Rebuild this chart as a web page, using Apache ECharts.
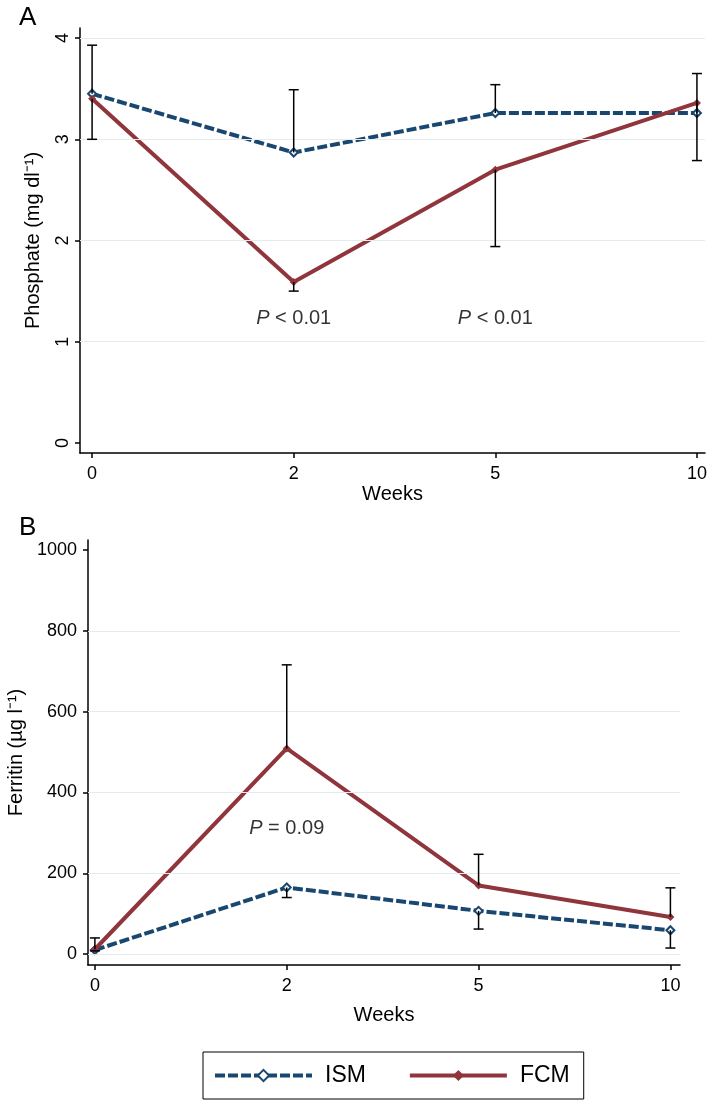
<!DOCTYPE html>
<html><head><meta charset="utf-8">
<script src="https://cdn.jsdelivr.net/npm/echarts@6/dist/echarts.min.js"></script>
<style>html,body{margin:0;padding:0;background:#fff}#c{width:709px;height:1105px}</style>
</head><body><div id="c"></div>
<script>
// ---- data ----
const weeks = ['0', '2', '5', '10'];
const phosISM = [3.45, 2.87, 3.26, 3.26];
const phosFCM = [3.40, 1.59, 2.70, 3.36];
const phosISMUpper = [3.93, 3.49, 3.54, 3.65];
const phosFCMLower = [3.00, 1.50, 1.94, 2.79];
const ferrISM = [10, 165, 107, 59];
const ferrFCM = [12, 509, 170, 92];
const ferrFCMUpper = [40, 716, 247, 164];
const ferrISMLower = [8, 140, 62, 15];
const phosTicks = [0, 1, 2, 3, 4];
const phosGridVals = [1, 2, 3, 4];
const ferrTicks = [0, 200, 400, 600, 800, 1000];
const ferrGridVals = [0, 200, 400, 600, 800];
const annotA = [{x: 1, y: 1.23, t: '{i|P} < 0.01'}, {x: 2, y: 1.23, t: '{i|P} < 0.01'}];
const annotB = [{x: 1, y: 311, t: '{i|P} = 0.09'}];

const NAVY = '#1a476f', RED = '#90353b', GRID = '#e4ecef';
const FONT = 'Liberation Sans, Arial, sans-serif';
const idx = weeks.map((w, i) => i);

function pts(arr) { return idx.map(i => [i, arr[i]]); }
function errData(mean, bound) { return idx.map(i => [i, mean[i], bound[i]]); }

function xAxis(gi, min, max, nameGap) {
  return {
    type: 'value', gridIndex: gi, min: min, max: max,
    name: 'Weeks', nameLocation: 'middle', nameGap: nameGap,
    nameTextStyle: {fontSize: 20, color: '#000', fontFamily: FONT},
    axisLine: {show: true, onZero: false, lineStyle: {color: '#000', width: 1.5}},
    axisTick: {show: true, length: 5, customValues: idx, lineStyle: {color: '#000', width: 1.5}},
    axisLabel: {customValues: idx, formatter: v => weeks[Math.round(v)], fontSize: 18, color: '#000', margin: 12, fontFamily: FONT},
    splitLine: {show: false}
  };
}
function yAxis(gi, min, max, ticks, name, nameGap, rotate, margin) {
  return {
    type: 'value', gridIndex: gi, min: min, max: max,
    name: name, nameLocation: 'middle', nameGap: nameGap,
    nameTextStyle: {fontSize: 20, color: '#000', fontFamily: FONT},
    axisLine: {show: true, onZero: false, lineStyle: {color: '#000', width: 1.5}},
    axisTick: {show: true, length: 5, customValues: ticks, lineStyle: {color: '#000', width: 1.5}},
    axisLabel: {customValues: ticks, formatter: v => String(v), rotate: rotate, fontSize: 18, color: '#000', margin: margin, fontFamily: FONT},
    splitLine: {show: false}
  };
}
function gridSeries(gi, vals) {
  return {
    type: 'line', xAxisIndex: gi, yAxisIndex: gi, data: [], silent: true, z: 0,
    markLine: {silent: true, symbol: 'none', label: {show: false}, animation: false,
      lineStyle: {color: GRID, width: 1.2, type: 'solid'},
      data: vals.map(v => ({yAxis: v}))}
  };
}
function ismSeries(gi, arr) {
  return {
    name: 'ISM', type: 'line', xAxisIndex: gi, yAxisIndex: gi, data: pts(arr), z: 2,
    symbol: 'emptyDiamond', symbolSize: 8, showSymbol: true,
    lineStyle: {color: NAVY, width: 4, type: [10, 3]},
    itemStyle: {color: NAVY, borderColor: NAVY, borderWidth: 1.5}
  };
}
function fcmSeries(gi, arr) {
  return {
    name: 'FCM', type: 'line', xAxisIndex: gi, yAxisIndex: gi, data: pts(arr), z: 3,
    symbol: 'diamond', symbolSize: 8, showSymbol: true,
    lineStyle: {color: RED, width: 4},
    itemStyle: {color: RED}
  };
}
function errSeries(gi, data) {
  return {
    type: 'custom', xAxisIndex: gi, yAxisIndex: gi, z: 5, silent: true, data: data,
    renderItem: (params, api) => {
      const x = api.value(0), a = api.value(1), b = api.value(2);
      const p1 = api.coord([x, a]), p2 = api.coord([x, b]);
      const w = 5;
      return {type: 'group', children: [
        {type: 'line', shape: {x1: p1[0], y1: p1[1], x2: p2[0], y2: p2[1]}, style: {stroke: '#000', lineWidth: 1.5}},
        {type: 'line', shape: {x1: p2[0] - w, y1: p2[1], x2: p2[0] + w, y2: p2[1]}, style: {stroke: '#000', lineWidth: 1.5}}
      ]};
    }
  };
}
function annotSeries(gi, list) {
  return {
    type: 'scatter', xAxisIndex: gi, yAxisIndex: gi, symbolSize: 1, silent: true, z: 6,
    itemStyle: {color: 'rgba(0,0,0,0)'},
    data: list.map(a => ({value: [a.x, a.y], label: {formatter: a.t}})),
    label: {show: true, position: 'inside', fontSize: 20, color: '#000', fontFamily: FONT,
      rich: {i: {fontStyle: 'italic', fontSize: 20, color: '#000', fontFamily: FONT}}}
  };
}

const chart = echarts.init(document.getElementById('c'), null, {renderer: 'canvas'});
chart.setOption({
  animation: false,
  backgroundColor: '#fff',
  textStyle: {fontFamily: FONT},
  title: [
    {text: 'A', left: 14, top: 0, textStyle: {fontSize: 26, fontWeight: 'normal', color: '#000', fontFamily: FONT}},
    {text: 'B', left: 14, top: 510, textStyle: {fontSize: 26, fontWeight: 'normal', color: '#000', fontFamily: FONT}}
  ],
  grid: [
    {left: 80, top: 28, width: 625, height: 425, outerBoundsMode: 'none', containLabel: false},
    {left: 88, top: 540, width: 592, height: 425, outerBoundsMode: 'none', containLabel: false}
  ],
  xAxis: [xAxis(0, -0.06, 3.04, 31), xAxis(1, -0.036, 3.05, 40)],
  yAxis: [
    yAxis(0, -0.1, 4.1, phosTicks, 'Phosphate (mg dl⁻¹)', 37, 90, 8),
    yAxis(1, -27, 1025, ferrTicks, 'Ferritin (µg l⁻¹)', 62, 0, 11)
  ],
  legend: {
    data: ['ISM', 'FCM'], left: 203, top: 1052, orient: 'horizontal',
    borderColor: '#000', borderWidth: 1, padding: [12, 14, 12, 10],
    itemWidth: 97, itemHeight: 14, itemGap: 42,
    lineStyle: {width: 4},
    textStyle: {fontSize: 23, color: '#000', fontFamily: FONT, padding: [0, 0, 0, 8]}
  },
  series: [
    gridSeries(0, phosGridVals),
    gridSeries(1, ferrGridVals),
    ismSeries(0, phosISM),
    fcmSeries(0, phosFCM),
    ismSeries(1, ferrISM),
    fcmSeries(1, ferrFCM),
    errSeries(0, errData(phosISM, phosISMUpper)),
    errSeries(0, errData(phosFCM, phosFCMLower)),
    errSeries(1, errData(ferrFCM, ferrFCMUpper)),
    errSeries(1, errData(ferrISM, ferrISMLower)),
    annotSeries(0, annotA),
    annotSeries(1, annotB)
  ]
});
</script>
</body></html>
